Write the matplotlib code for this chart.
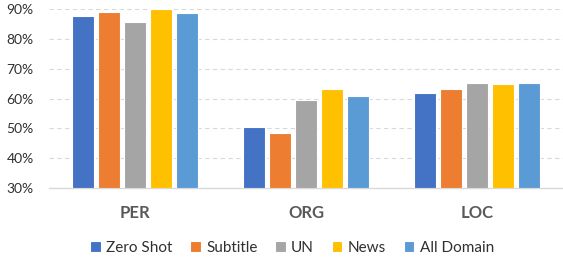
import matplotlib
matplotlib.use("Agg")
import matplotlib.pyplot as plt
import numpy as np
from matplotlib.ticker import FuncFormatter

categories = ["PER", "ORG", "LOC"]
series_names = ["Zero Shot", "Subtitle", "UN", "News", "All Domain"]
zero_shot = [87.5, 50.5, 61.9]
subtitle = [88.9, 48.6, 63.3]
un = [85.7, 59.6, 65.1]
news = [90.1, 63.1, 65.0]
all_domain = [88.7, 61.0, 65.1]
colors = ["#4472C4", "#ED7D31", "#A5A5A5", "#FFC000", "#5B9BD5"]
yticks = [30, 40, 50, 60, 70, 80, 90]

plt.rcParams['font.family'] = ['Lato', 'DejaVu Sans']
text_color = "#595959"

fig = plt.figure(figsize=(5.63, 2.60), dpi=100)
ax = fig.add_axes([49/563, 1-188/260, (563-49)/563, (188-9)/260])

data = [zero_shot, subtitle, un, news, all_domain]
x = np.arange(len(categories))
step = 0.152
width = 0.128
for i, (name, vals, c) in enumerate(zip(series_names, data, colors)):
    offs = (i - 2) * step
    ax.bar(x + offs, [v - 30 for v in vals], width=width, bottom=30, color=c,
           edgecolor="white", linewidth=0.8, label=name, zorder=3)

ax.set_xlim(-0.5, 2.5)
ax.set_ylim(30, 90)
ax.set_yticks(yticks)
ax.yaxis.set_major_formatter(FuncFormatter(lambda v, p: f"{int(v)}%"))
ax.set_xticks(x)
ax.set_xticklabels(categories, fontsize=12, fontweight="bold", color=text_color)
ax.tick_params(axis="x", length=0, pad=12)
ax.tick_params(axis="y", length=0, pad=11, labelsize=10, labelcolor="#303030")
for s in ["top", "right", "left"]:
    ax.spines[s].set_visible(False)
ax.spines["bottom"].set_color("#D9D9D9")
ax.spines["bottom"].set_linewidth(1)
ax.grid(axis="y", color="#D9D9D9", linestyle=(0, (4, 3)), linewidth=0.8, zorder=0)
ax.set_axisbelow(True)

leg = fig.legend(loc="center", bbox_to_anchor=(292/563, 1-248/260), ncol=5, frameon=False,
                 fontsize=11, handlelength=0.7, handleheight=0.7, handletextpad=0.35,
                 columnspacing=1.15, labelcolor="#303030")

fig.savefig("out.png", dpi=100)
